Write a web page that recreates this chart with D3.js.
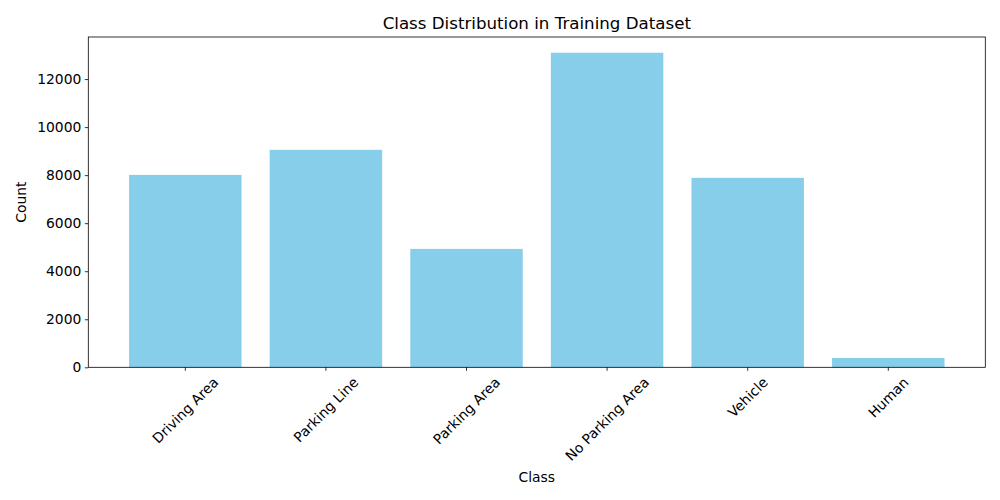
<!DOCTYPE html>
<html><head><meta charset="utf-8">
<script src="https://cdn.jsdelivr.net/npm/d3@7"></script>
<style>body{margin:0;background:#fff}svg{font-family:"DejaVu Sans",sans-serif}</style>
</head><body>
<svg id="c" width="1000" height="500"></svg>
<script>
const categories = ["Driving Area","Parking Line","Parking Area","No Parking Area","Vehicle","Human"];
const counts = [8010, 9054, 4929, 13096, 7888, 388];
const yTicks = [0,2000,4000,6000,8000,10000,12000];

const FS = 13.89, TFS = 16.67;
const svg = d3.select("#c");
const L=88.3, R=985.3, T=37, B=367.3;
const x = d3.scaleBand().domain(categories).range([L,R]).paddingInner(0.2).paddingOuter(0.29);
const y = d3.scaleLinear().domain([0, d3.max(counts)*1.05]).range([B,T]);

svg.append("g").selectAll("rect").data(categories).join("rect")
  .attr("x", d=>x(d)).attr("width", x.bandwidth())
  .attr("y", (d,i)=>y(counts[i])).attr("height",(d,i)=>B-y(counts[i]))
  .attr("fill","#87ceeb");

const ya = svg.append("g").attr("transform",`translate(${L},0)`)
  .call(d3.axisLeft(y).tickValues(yTicks).tickSize(3.5).tickPadding(3.5).tickFormat(d3.format("d")));
ya.select(".domain").remove();
ya.selectAll("text").attr("font-size",FS+"px").attr("fill","#000").attr("font-family","DejaVu Sans");
ya.selectAll("line").attr("stroke","#000").attr("stroke-width",0.8);

const xa = svg.append("g").attr("transform",`translate(0,${B})`)
  .call(d3.axisBottom(x).tickSize(3.5).tickFormat(""));
xa.select(".domain").remove();
xa.selectAll("line").attr("stroke","#000").attr("stroke-width",0.8);

// rotated labels, centered on tick like matplotlib rotation=45
const lab = svg.append("g").selectAll("text").data(categories).join("text")
  .attr("font-size",FS+"px").attr("fill","#000")
  .attr("text-anchor","middle").attr("dominant-baseline","central")
  .text(d=>d);
lab.each(function(d){
  const w=this.getComputedTextLength(), h=FS*1.1;
  const bh=(w+h)*Math.SQRT1_2;
  const cx=x(d)+x.bandwidth()/2, cy=B+3.5+3.5+bh/2;
  d3.select(this).attr("transform",`translate(${cx},${cy}) rotate(-45)`);
});

svg.append("rect").attr("x",L).attr("y",T).attr("width",R-L).attr("height",B-T)
  .attr("fill","none").attr("stroke","#000").attr("stroke-width",0.8);

svg.append("text").attr("x",(L+R)/2).attr("y",T-8).attr("text-anchor","middle")
  .attr("font-size",TFS+"px").text("Class Distribution in Training Dataset");
svg.append("text").attr("x",(L+R)/2).attr("y",482).attr("text-anchor","middle")
  .attr("font-size",FS+"px").text("Class");
svg.append("text").attr("transform",`translate(26,${(T+B)/2}) rotate(-90)`).attr("text-anchor","middle")
  .attr("font-size",FS+"px").text("Count");
</script>
</body></html>
